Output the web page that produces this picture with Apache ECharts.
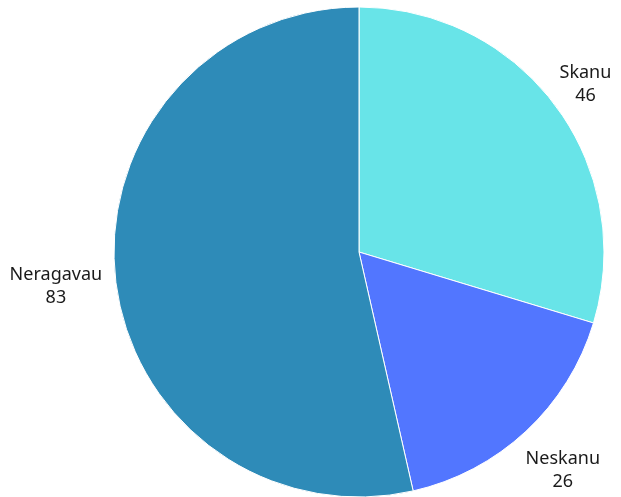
<!DOCTYPE html>
<html>
<head>
<meta charset="utf-8">
<script src="https://cdn.jsdelivr.net/npm/echarts@6/dist/echarts.min.js"></script>
<style>html,body{margin:0;padding:0;background:#fff;}#c{width:621px;height:497px;}</style>
</head>
<body>
<div id="c"></div>
<script>
const categories = ["Skanu", "Neskanu", "Neragavau"];
const values = [46, 26, 83];
const colors = ["#68e4e8", "#5276ff", "#2e8bb8"];
const labelLineLengths = [37, 54, 60];

const chart = echarts.init(document.getElementById('c'));
chart.setOption({
  animation: false,
  series: [{
    type: 'pie',
    center: [359, 252],
    radius: 245,
    startAngle: 90,
    clockwise: true,
    avoidLabelOverlap: false,
    itemStyle: { borderColor: '#ffffff', borderWidth: 1 },
    label: {
      show: true,
      position: 'outside',
      formatter: '{b}\n{c}',
      fontFamily: 'Noto Sans',
      fontSize: 18,
      lineHeight: 23,
      color: '#1a1a1a',
      distanceToLabelLine: 0
    },
    labelLine: { show: false, length2: 0 },
    labelLayout: function () {
      return { align: 'center', verticalAlign: 'middle' };
    },
    data: categories.map((name, i) => ({
      name: name,
      value: values[i],
      itemStyle: { color: colors[i] },
      labelLine: { show: false, length: labelLineLengths[i], length2: 0 }
    }))
  }]
});
</script>
</body>
</html>
